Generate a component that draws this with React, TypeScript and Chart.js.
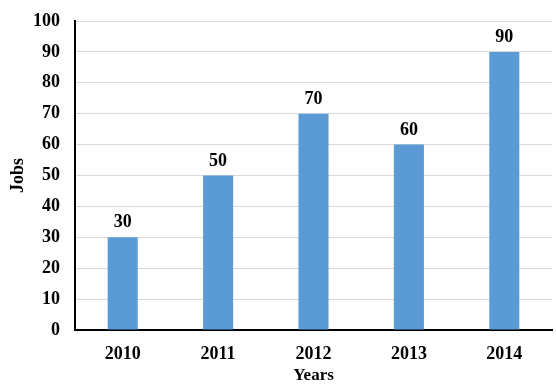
import React, { useEffect, useRef } from "react";
import { Chart, registerables } from "chart.js";

Chart.register(...registerables);

const categories = ["2010", "2011", "2012", "2013", "2014"];
const jobs = [30, 50, 70, 60, 90];
const yTicks = [0, 10, 20, 30, 40, 50, 60, 70, 80, 90, 100];

const FONT = "'Liberation Serif', 'Times New Roman', serif";

const dataLabels = {
  id: "dataLabels",
  afterDatasetsDraw(chart: any) {
    const ctx = chart.ctx;
    const meta = chart.getDatasetMeta(0);
    ctx.save();
    ctx.font = `bold 18px ${FONT}`;
    ctx.fillStyle = "#000";
    ctx.textAlign = "center";
    ctx.textBaseline = "alphabetic";
    meta.data.forEach((bar: any, i: number) => {
      ctx.fillText(String(chart.data.datasets[0].data[i]), bar.x, bar.y - 10);
    });
    ctx.restore();
  },
};

export default function App() {
  const ref = useRef<HTMLCanvasElement>(null);
  useEffect(() => {
    document.body.style.margin = "0";
    const chart = new Chart(ref.current!, {
      type: "bar",
      data: {
        labels: categories,
        datasets: [
          {
            data: jobs,
            backgroundColor: "#5B9BD5",
            barPercentage: 0.315,
            categoryPercentage: 1,
          },
        ],
      },
      options: {
        responsive: false,
        animation: false,
        layout: { padding: { top: 21, right: 4, left: 0, bottom: 0 } },
        plugins: { legend: { display: false }, tooltip: { enabled: false } },
        scales: {
          x: {
            grid: { display: false },
            border: { display: true, color: "#000", width: 2 },
            ticks: {
              color: "#000",
              padding: 6,
              font: { family: FONT, size: 18, weight: "bold" },
            },
            title: {
              display: true,
              text: "Years",
              color: "#000",
              padding: { top: 0, bottom: 4 },
              font: { family: FONT, size: 17, weight: "bold" },
            },
            afterFit(scale: any) {
              scale.height = 60;
              scale.paddingLeft = 0;
              scale.paddingRight = 0;
            },
          },
          y: {
            min: 0,
            max: 100,
            afterBuildTicks(scale: any) {
              scale.ticks = yTicks.map((v) => ({ value: v }));
            },
            grid: { color: "#d9d9d9", lineWidth: 1, drawTicks: false },
            border: { display: true, color: "#000", width: 2 },
            ticks: {
              color: "#000",
              padding: 15,
              font: { family: FONT, size: 18, weight: "bold" },
            },
            title: {
              display: true,
              text: "Jobs",
              color: "#000",
              padding: { top: 8, bottom: 0 },
              font: { family: FONT, size: 18, weight: "bold" },
            },
            afterFit(scale: any) {
              scale.width = 75;
              scale.paddingTop = 0;
              scale.paddingBottom = 0;
            },
          },
        },
      },
      plugins: [dataLabels],
    });
    return () => chart.destroy();
  }, []);
  return (
    <div style={{ position: "absolute", left: 0, top: 0, width: 556, height: 390 }}>
      <canvas ref={ref} width={556} height={390} />
    </div>
  );
}
